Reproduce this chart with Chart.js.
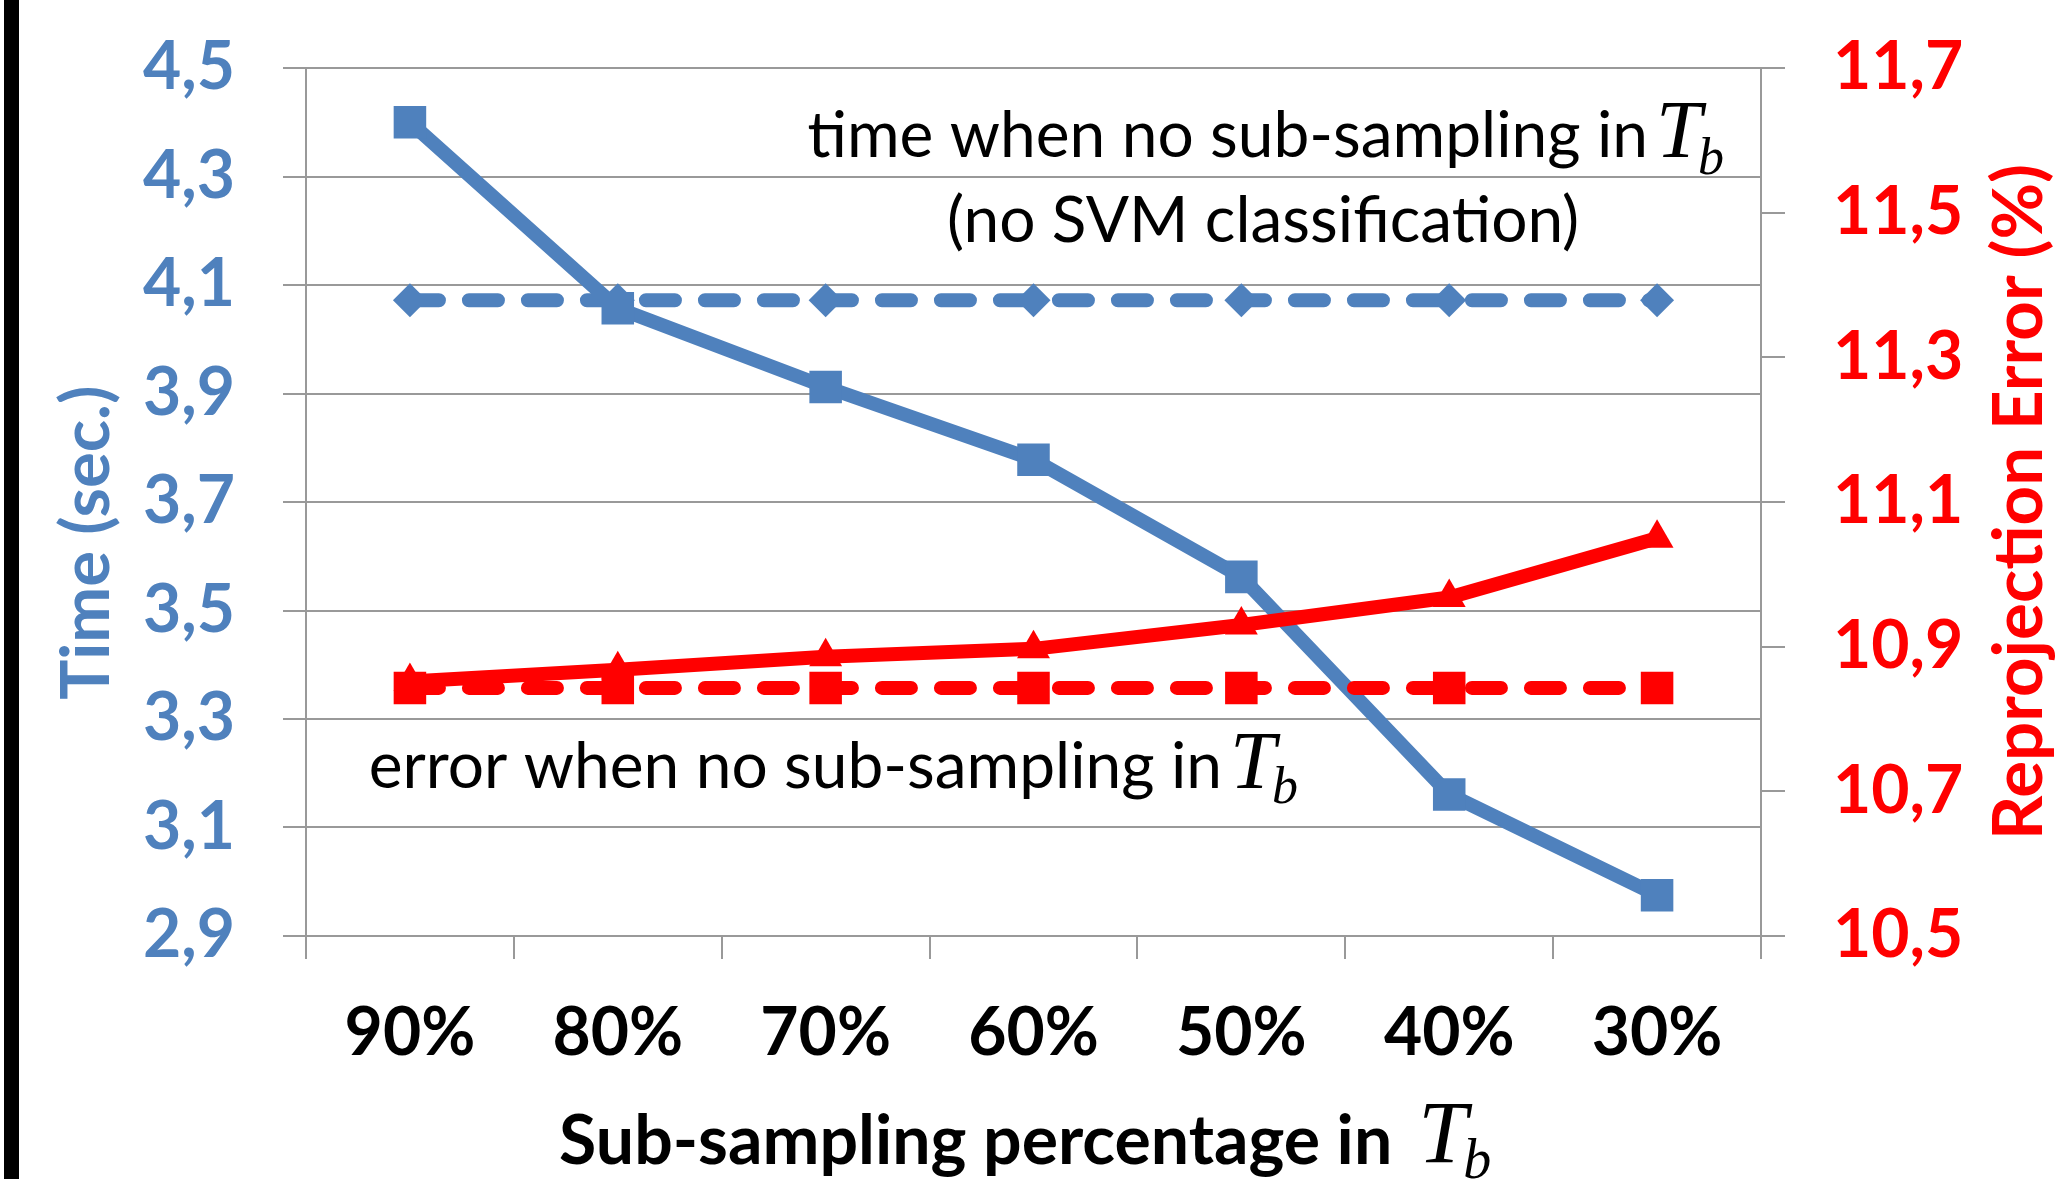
<!DOCTYPE html>
<html>
<head>
<meta charset="utf-8">
<script src="https://cdn.jsdelivr.net/npm/chart.js@4.4.1/dist/chart.umd.min.js"></script>
<style>
  html, body { margin: 0; padding: 0; background: #fff; }
  canvas { display: block; }
</style>
</head>
<body>
<canvas id="grafico" width="2072" height="1179"></canvas>
<script>
const categorias = ["90%", "80%", "70%", "60%", "50%", "40%", "30%"];
const tiempo = [4.40, 4.057, 3.912, 3.778, 3.562, 3.161, 2.975];
const tiempoSinSub = [4.072, 4.072, 4.072, 4.072, 4.072, 4.072, 4.072];
const errorRep = [10.852, 10.868, 10.886, 10.897, 10.930, 10.968, 11.050];
const errorSinSub = [10.843, 10.843, 10.843, 10.843, 10.843, 10.843, 10.843];
const ticksTiempo = [2.9, 3.1, 3.3, 3.5, 3.7, 3.9, 4.1, 4.3, 4.5];
const ticksError = [10.5, 10.7, 10.9, 11.1, 11.3, 11.5, 11.7];

const AZUL = "#4F81BD";
const ROJO = "#FF0000";
const GRIS = "#999999";
const FUENTE = "Lato";

const coma = (v) => Number(v).toFixed(1).replace(".", ",");

// dibuja T con subindice b (italica) a partir del final del texto
function dibujarTb(ctx, x, y, tamT, tamB, dxB, dyB) {
  ctx.textAlign = "left";
  ctx.textBaseline = "alphabetic";
  ctx.font = `italic ${tamT}px "Liberation Serif"`;
  ctx.fillText("T", x, y);
  ctx.font = `italic ${tamB}px "Liberation Serif"`;
  ctx.fillText("b", x + dxB, y + dyB);
}

const anotaciones = {
  id: "anotaciones",
  beforeDraw(chart) {
    const ctx = chart.ctx;
    ctx.save();
    ctx.fillStyle = "#fff";
    ctx.fillRect(0, 0, chart.width, chart.height);
    ctx.fillStyle = "#000";
    ctx.fillRect(4, 0, 15, chart.height);
    ctx.restore();
  },
  afterDraw(chart) {
    const ctx = chart.ctx;
    ctx.save();
    ctx.fillStyle = "#000";
    ctx.textBaseline = "alphabetic";

    ctx.font = `64px ${FUENTE}`;
    ctx.textAlign = "right";
    ctx.fillText("time when no sub-sampling in", 1648, 157);
    dibujarTb(ctx, 1656, 157, 82, 52, 42, 17);

    ctx.font = `64px ${FUENTE}`;
    ctx.textAlign = "center";
    ctx.fillText("(no SVM classification)", 1263, 242);

    ctx.font = `64px ${FUENTE}`;
    ctx.textAlign = "right";
    ctx.fillText("error when no sub-sampling in", 1222, 788);
    dibujarTb(ctx, 1230, 788, 82, 52, 42, 15);

    // T_b del titulo del eje x
    const ejeX = chart.scales.x;
    const tit = ejeX.options.title;
    ctx.font = `bold ${tit.font.size}px ${FUENTE}`;
    const total = ctx.measureText(tit.text).width;
    const prefijo = ctx.measureText(tit.text.trimEnd()).width;
    const fin = (ejeX.left + ejeX.right) / 2 - total / 2 + prefijo;
    dibujarTb(ctx, fin + 26, 1162, 88, 56, 45, 16);

    // titulo del eje derecho, leido de abajo hacia arriba
    const ejeE = chart.scales.yError;
    ctx.translate(2020, (ejeE.top + ejeE.bottom) / 2);
    ctx.rotate(-Math.PI / 2);
    ctx.fillStyle = ROJO;
    ctx.font = `bold 69px ${FUENTE}`;
    ctx.textAlign = "center";
    ctx.textBaseline = "middle";
    ctx.fillText("Reprojection Error (%)", 0, 0);
    ctx.restore();
  }
};

const sinRellenoVertical = (scale, ancho) => {
  scale.width = ancho;
  scale.paddingTop = 0;
  scale.paddingBottom = 0;
};

const ctx = document.getElementById("grafico").getContext("2d");
new Chart(ctx, {
  type: "line",
  data: {
    labels: categorias,
    datasets: [
      {
        label: "Time",
        data: tiempo,
        yAxisID: "yTiempo",
        borderColor: AZUL,
        backgroundColor: AZUL,
        borderWidth: 14,
        borderJoinStyle: "round",
        pointStyle: "rect",
        pointRadius: 23,
        pointBorderWidth: 0,
        pointBackgroundColor: AZUL,
        order: 2,
      },
      {
        label: "Time no sub-sampling",
        data: tiempoSinSub,
        yAxisID: "yTiempo",
        borderColor: AZUL,
        backgroundColor: AZUL,
        borderWidth: 14,
        borderDash: [29, 30],
        borderCapStyle: "round",
        pointStyle: "rectRot",
        pointRadius: 17,
        pointBorderWidth: 0,
        pointBackgroundColor: AZUL,
        order: 3,
      },
      {
        label: "Error",
        data: errorRep,
        yAxisID: "yError",
        borderColor: ROJO,
        backgroundColor: ROJO,
        borderWidth: 14,
        borderJoinStyle: "round",
        pointStyle: "triangle",
        pointRadius: 19,
        pointBorderWidth: 0,
        pointBackgroundColor: ROJO,
        order: 1,
      },
      {
        label: "Error no sub-sampling",
        data: errorSinSub,
        yAxisID: "yError",
        borderColor: ROJO,
        backgroundColor: ROJO,
        borderWidth: 14,
        borderDash: [29, 30],
        borderCapStyle: "round",
        pointStyle: "rect",
        pointRadius: 23,
        pointBorderWidth: 0,
        pointBackgroundColor: ROJO,
        order: 0,
      },
    ],
  },
  options: {
    responsive: false,
    animation: false,
    devicePixelRatio: 1,
    layout: { padding: { top: 68, left: 0, right: 0, bottom: 0 } },
    elements: { line: { tension: 0 } },
    plugins: {
      legend: { display: false },
      tooltip: { enabled: false },
    },
    scales: {
      x: {
        offset: true,
        grid: {
          offset: true,
          drawOnChartArea: false,
          drawTicks: true,
          tickLength: 23,
          color: GRIS,
          lineWidth: 2,
        },
        border: { color: GRIS, width: 2 },
        ticks: {
          color: "#000",
          font: { family: FUENTE, weight: "bold", size: 66 },
          padding: 35,
          maxRotation: 0,
          autoSkip: false,
        },
        title: {
          display: true,
          text: "Sub-sampling percentage in       ",
          color: "#000",
          font: { family: FUENTE, weight: "bold", size: 68, lineHeight: 1 },
          padding: { top: 0, bottom: 3 },
        },
        afterFit(scale) {
          scale.height = 243;
          scale.paddingLeft = 0;
          scale.paddingRight = 0;
        },
      },
      yTiempo: {
        position: "left",
        min: 2.9,
        max: 4.5,
        afterBuildTicks(scale) {
          scale.ticks = ticksTiempo.map((v) => ({ value: v }));
        },
        grid: { color: GRIS, lineWidth: 2, tickLength: 23 },
        border: { color: GRIS, width: 2 },
        ticks: {
          color: AZUL,
          font: { family: FUENTE, weight: "bold", size: 66 },
          padding: 48,
          callback: (v) => coma(v),
        },
        title: {
          display: true,
          text: "Time (sec.)     ",
          color: AZUL,
          font: { family: FUENTE, weight: "bold", size: 67, lineHeight: 1.2 },
          padding: { top: 47, bottom: 0 },
        },
        afterFit(scale) {
          sinRellenoVertical(scale, 306);
        },
      },
      yError: {
        position: "right",
        min: 10.5,
        max: 11.7,
        afterBuildTicks(scale) {
          scale.ticks = ticksError.map((v) => ({ value: v }));
        },
        grid: {
          drawOnChartArea: false,
          color: GRIS,
          lineWidth: 2,
          tickLength: 24,
        },
        border: { color: GRIS, width: 2 },
        ticks: {
          color: ROJO,
          font: { family: FUENTE, weight: "bold", size: 66 },
          padding: 48,
          callback: (v) => coma(v),
        },
        title: { display: false },
        afterFit(scale) {
          sinRellenoVertical(scale, 311);
        },
      },
    },
  },
  plugins: [anotaciones],
});
</script>
</body>
</html>
